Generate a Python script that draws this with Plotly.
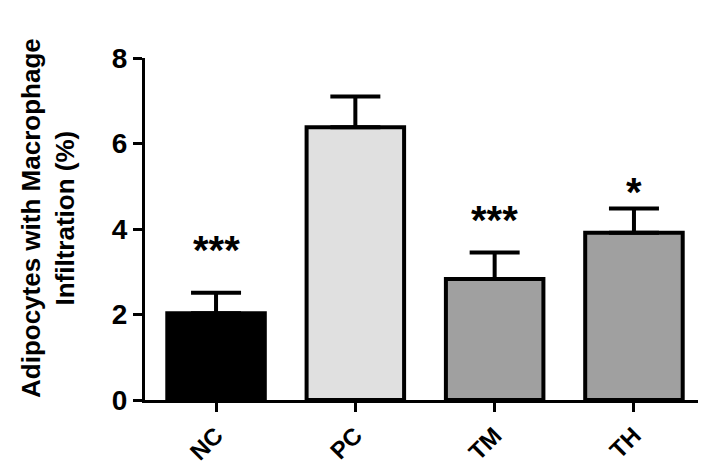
import plotly.graph_objects as go

# values
groups = ['NC', 'PC', 'TM', 'TH']
means = [2.03, 6.38, 2.83, 3.91]
errors = [0.48, 0.72, 0.62, 0.57]
bar_colors = ['#000000', '#e0e0e0', '#a0a0a0', '#a0a0a0']
stars = ['***', '', '***', '*']
star_y = [3.67, None, 4.37, 5.03]
y_title = 'Adipocytes with Macrophage<br>Infiltration (%)'

FONT = 'Arial, Liberation Sans, sans-serif'

fig = go.Figure()
fig.add_trace(go.Bar(
    x=groups,
    y=means,
    width=0.7,
    marker={
        'color': bar_colors,
        'line': {'color': 'black', 'width': 4}
    },
    error_y={
        'type': 'data',
        'symmetric': False,
        'array': errors,
        'arrayminus': [0] * len(errors),
        'color': 'black',
        'thickness': 4,
        'width': 25
    },
    showlegend=False
))

# significance stars
for g, s, y in zip(groups, stars, star_y):
    if s:
        fig.add_annotation(
            x=g, y=y, text=s, showarrow=False,
            yanchor='middle', yshift=-7,
            font={'family': FONT, 'size': 40, 'color': 'black'}
        )

# y title as a rotated annotation, sits a bit above the plot centre
fig.add_annotation(
    xref='paper', yref='paper', x=0, y=0.5,
    text=y_title, textangle=-90, showarrow=False,
    xanchor='center', yanchor='middle',
    xshift=-97, yshift=11,
    font={'family': FONT, 'size': 26, 'color': 'black', 'weight': 'bold'}
)

fig.update_layout(
    width=706,
    height=467,
    margin={'l': 137, 'r': 9, 't': 50, 'b': 75},
    plot_bgcolor='white',
    paper_bgcolor='white',
    font={'family': FONT, 'color': 'black', 'weight': 'bold'},
    bargap=0.3
)
fig.update_xaxes(
    range=[-0.51, 3.51],
    showline=True, linecolor='black', linewidth=3,
    ticks='outside', ticklen=9, tickwidth=3, tickcolor='black',
    tickangle=-45,
    tickfont={'size': 24, 'family': FONT, 'weight': 'bold'},
    showgrid=False, zeroline=False
)
fig.update_yaxes(
    range=[0, 8],
    automargin=False,
    tickvals=[0, 2, 4, 6, 8],
    showline=True, linecolor='black', linewidth=3,
    ticks='outside', ticklen=9, tickwidth=3, tickcolor='black',
    tickfont={'size': 28, 'family': FONT, 'weight': 'bold'},
    showgrid=False, zeroline=False
)

fig.write_html('out.html')
